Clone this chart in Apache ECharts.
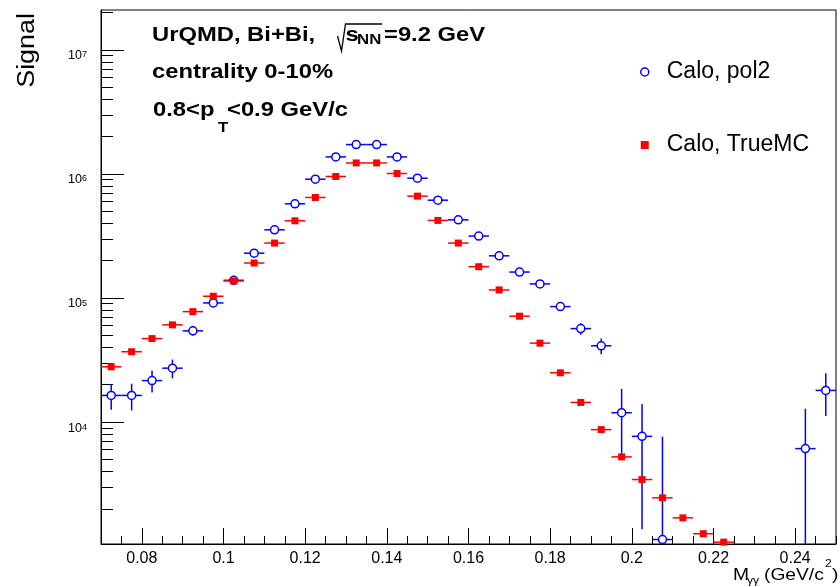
<!DOCTYPE html>
<html>
<head>
<meta charset="utf-8">
<script src="https://cdn.jsdelivr.net/npm/echarts@6/dist/echarts.min.js"></script>
<style>html,body{margin:0;padding:0;background:#fff}#chart{width:840px;height:587px}</style>
</head>
<body>
<div id="chart"></div>
<script>
// ---------------- data ----------------
const binCenters = [0.0725, 0.0775, 0.0825, 0.0875, 0.0925, 0.0975, 0.1025, 0.1075, 0.1125, 0.1175,
  0.1225, 0.1275, 0.1325, 0.1375, 0.1425, 0.1475, 0.1525, 0.1575, 0.1625, 0.1675,
  0.1725, 0.1775, 0.1825, 0.1875, 0.1925, 0.1975, 0.2025, 0.2075, 0.2125, 0.2175,
  0.2225, 0.2275, 0.2325, 0.2375, 0.2425, 0.2475];
const binHalfWidth = 0.0025;

const caloPol2 = [16400, 16400, 21600, 27200, 54400, 91300, 139000, 230000, 355000, 575000,
  908000, 1373000, 1727000, 1727000, 1373000, 925000, 615000, 427000, 316000, 219000,
  162000, 130000, 85300, 56700, 41200, 11900, 7670, 1130, null, null,
  null, null, null, null, 6110, 18000];
const caloPol2Err = [3800, 4000, 4300, 4700, 4600, 4800, 5000, 5200, 5400, 5600,
  5800, 6000, 6200, 6200, 6000, 5800, 5800, 5800, 5800, 5800,
  5800, 5800, 5800, 6000, 6000, 6600, 6300, 6500, null, null,
  null, null, null, null, 6700, 6800];
const caloTrueMC = [27900, 36900, 47100, 60800, 77700, 103400, 137300, 191600, 277500, 419500,
  647000, 955000, 1228000, 1228000, 1009000, 663000, 422600, 277500, 178900, 116200,
  71400, 43300, 24970, 14400, 8690, 5240, 3440, 2450, 1690, 1258,
  1077, null, null, null, null, null];

const xMajorTicks = [0.08, 0.10, 0.12, 0.14, 0.16, 0.18, 0.20, 0.22, 0.24];
const xMinorTicks = [0.07, 0.075, 0.08, 0.085, 0.09, 0.095, 0.1, 0.105, 0.11, 0.115, 0.12, 0.125,
  0.13, 0.135, 0.14, 0.145, 0.15, 0.155, 0.16, 0.165, 0.17, 0.175, 0.18, 0.185, 0.19, 0.195,
  0.2, 0.205, 0.21, 0.215, 0.22, 0.225, 0.23, 0.235, 0.24, 0.245, 0.25];
const yMajorTicks = [1e4, 1e5, 1e6, 1e7];
const yMinorTicks = [2e3, 3e3, 4e3, 5e3, 6e3, 7e3, 8e3, 9e3,
  2e4, 3e4, 4e4, 5e4, 6e4, 7e4, 8e4, 9e4,
  2e5, 3e5, 4e5, 5e5, 6e5, 7e5, 8e5, 9e5,
  2e6, 3e6, 4e6, 5e6, 6e6, 7e6, 8e6, 9e6, 2e7];

const X_MIN = 0.07, X_MAX = 0.25, Y_MIN = 1040, Y_MAX = 2.1e7;
const seriesNames = ['Calo, pol2', 'Calo, TrueMC'];
const titleLines = ['UrQMD, Bi+Bi,', 'centrality 0-10%'];

// ---------------- build ----------------
const BLUE = '#0000ff', RED = '#ff0000', FONT = 'Liberation Sans';

function points(vals) {
  const out = [];
  binCenters.forEach((x, i) => { if (vals[i] != null) out.push([x, vals[i]]); });
  return out;
}
function errPoints(vals, errs) {
  const out = [];
  binCenters.forEach((x, i) => {
    if (vals[i] == null) return;
    const e = errs ? (errs[i] || 0) : 0;
    out.push([x, vals[i], vals[i] - e, vals[i] + e]);
  });
  return out;
}
function errRenderer(color) {
  return function (params, api) {
    const x = api.value(0), y = api.value(1), lo = api.value(2), hi = api.value(3);
    const pL = api.coord([x - binHalfWidth, y]);
    const pR = api.coord([x + binHalfWidth, y]);
    const st = { stroke: color, lineWidth: 1.5 };
    const children = [{ type: 'line', shape: { x1: pL[0], y1: pL[1], x2: pR[0], y2: pR[1] }, style: st }];
    if (hi > y) {
      const pT = api.coord([x, hi]);
      let yb;
      if (lo > 0) yb = api.coord([x, lo])[1];
      else yb = params.coordSys.y + params.coordSys.height + 5;
      children.push({ type: 'line', shape: { x1: pT[0], y1: pT[1], x2: pT[0], y2: yb }, style: st });
    }
    return { type: 'group', children };
  };
}
function txt(x, y, text, size, o) {
  o = o || {};
  return {
    type: 'text', x: x, y: y, scaleX: o.sx || 1, rotation: o.rot || 0, z: 100,
    style: { text: text, fontSize: size, fontFamily: FONT, fontWeight: o.bold ? 'bold' : 'normal',
      fill: '#000', align: o.align || 'left', verticalAlign: 'middle' }
  };
}

const chart = echarts.init(document.getElementById('chart'), null, { renderer: 'canvas' });
const option = {
  animation: false,
  backgroundColor: '#fff',
  grid: { left: 101, right: 4, top: 10, bottom: 43, show: true, borderColor: '#000', borderWidth: 1, backgroundColor: 'transparent' },
  xAxis: [
    {
      type: 'value', min: X_MIN, max: X_MAX, position: 'bottom',
      axisLine: { show: true, lineStyle: { color: '#000', width: 1 } },
      axisTick: { show: true, inside: true, length: 16, customValues: xMajorTicks, lineStyle: { color: '#000', width: 1 } },
      axisLabel: { show: true, customValues: xMajorTicks, margin: 7, fontSize: 16, fontFamily: FONT, color: '#000',
        formatter: v => String(parseFloat(v.toFixed(3))) },
      splitLine: { show: false }
    },
    {
      type: 'value', min: X_MIN, max: X_MAX, position: 'top', offset: -534,
      axisLine: { show: false },
      axisTick: { show: true, inside: false, length: 8, customValues: xMinorTicks, lineStyle: { color: '#000', width: 1 } },
      axisLabel: { show: false },
      splitLine: { show: false }
    }
  ],
  yAxis: [
    {
      type: 'log', logBase: 10, min: Y_MIN, max: Y_MAX, position: 'left',
      axisLine: { show: true, lineStyle: { color: '#000', width: 1 } },
      axisTick: { show: true, inside: true, length: 23, customValues: yMajorTicks, lineStyle: { color: '#000', width: 1 } },
      axisLabel: {
        show: true, customValues: yMajorTicks, margin: 14, padding: [13, 0, 0, 0], color: '#000', fontFamily: FONT,
        formatter: v => '{b|10}{s|' + Math.round(Math.log10(v)) + '}',
        rich: {
          b: { fontSize: 12.5, lineHeight: 12, verticalAlign: 'bottom', fontFamily: FONT, color: '#000' },
          s: { fontSize: 9, lineHeight: 5, verticalAlign: 'top', fontFamily: FONT, color: '#000' }
        }
      },
      splitLine: { show: false }
    },
    {
      type: 'log', logBase: 10, min: Y_MIN, max: Y_MAX, position: 'right', offset: -735,
      axisLine: { show: false },
      axisTick: { show: true, inside: false, length: 12, customValues: yMinorTicks, lineStyle: { color: '#000', width: 1 } },
      axisLabel: { show: false },
      splitLine: { show: false }
    }
  ],
  legend: {
    orient: 'vertical', left: 635, top: 54, itemGap: 47, itemWidth: 8, itemHeight: 8,
    selectedMode: false,
    textStyle: { fontSize: 23, lineHeight: 26, fontFamily: FONT, color: '#000', padding: [0, 0, 0, 13] },
    data: [
      { name: seriesNames[0], icon: 'circle', itemStyle: { color: '#fff', borderColor: BLUE, borderWidth: 1.5 } },
      { name: seriesNames[1], icon: 'rect', itemStyle: { color: RED, borderWidth: 0 } }
    ]
  },
  series: [
    { name: 'pol2 errors', type: 'custom', xAxisIndex: 0, yAxisIndex: 0, clip: true, z: 2,
      renderItem: errRenderer(BLUE), data: errPoints(caloPol2, caloPol2Err), encode: { x: 0, y: 1 } },
    { name: seriesNames[0], type: 'scatter', xAxisIndex: 0, yAxisIndex: 0, z: 3, symbol: 'circle', symbolSize: 8,
      itemStyle: { color: '#fff', borderColor: BLUE, borderWidth: 1.5, opacity: 1 }, data: points(caloPol2) },
    { name: 'TrueMC errors', type: 'custom', xAxisIndex: 0, yAxisIndex: 0, clip: true, z: 4,
      renderItem: errRenderer(RED), data: errPoints(caloTrueMC, null), encode: { x: 0, y: 1 } },
    { name: seriesNames[1], type: 'scatter', xAxisIndex: 0, yAxisIndex: 0, z: 5, symbol: 'rect', symbolSize: 7,
      itemStyle: { color: RED, opacity: 1 }, data: points(caloTrueMC) }
  ],
  graphic: [
    // annotation line 1
    txt(152, 35, titleLines[0], 20.5, { bold: true, sx: 1.16 }),
    { type: 'polyline', z: 100, shape: { points: [[337.5, 36], [341.5, 51], [345.5, 24], [382, 24]] },
      style: { stroke: '#000', lineWidth: 1.3, fill: null } },
    txt(345.5, 35, 's', 20.5, { bold: true, sx: 1.16 }),
    txt(357, 39.5, 'NN', 15, { bold: true, sx: 1.12 }),
    txt(384, 35, '=9.2 GeV', 20.5, { bold: true, sx: 1.16 }),
    // line 2
    txt(152, 72.6, titleLines[1], 20.5, { bold: true, sx: 1.16 }),
    // line 3
    txt(153, 110.3, '0.8<p', 20.5, { bold: true, sx: 1.16 }),
    txt(218, 127.5, 'T', 15, { bold: true, sx: 1.12 }),
    txt(227, 110.3, '<0.9 GeV/c', 20.5, { bold: true, sx: 1.16 }),
    // y title
    txt(28, 13, 'Signal', 23, { align: 'right', rot: Math.PI / 2, sx: 1.17 }),
    // x title
    txt(733, 575.5, 'M', 16, { sx: 1.2 }),
    txt(747, 580.5, 'γγ', 11, { sx: 1.1 }),
    txt(764, 575.5, '(GeV/c', 16, { sx: 1.2 }),
    txt(825, 564, '2', 11, { sx: 1.1 }),
    txt(832, 575.5, ')', 16, { sx: 1.2 })
  ]
};
chart.setOption(option);
</script>
</body>
</html>
